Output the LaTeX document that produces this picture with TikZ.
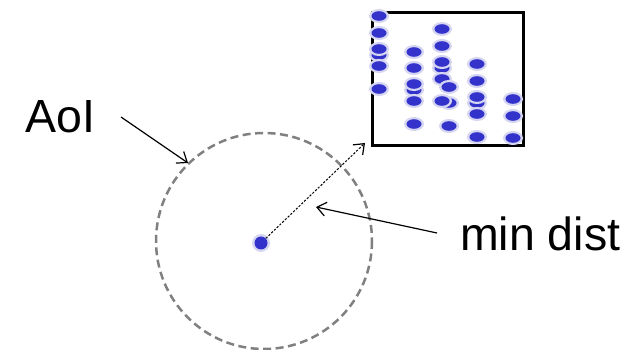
\documentclass[tikz,border=0pt]{standalone}
\usepackage{fontspec}
\setmainfont{Liberation Sans}
\usetikzlibrary{arrows.meta}
\definecolor{dotblue}{HTML}{3333CC}
\definecolor{halo}{HTML}{D6D6F2}
\definecolor{ringgray}{HTML}{808080}
\begin{document}
\begin{tikzpicture}[x=1pt,y=-1pt,
  lbl/.style={inner sep=0pt,font=\fontsize{46.5}{56}\selectfont},
  pointer/.style={draw=black,line width=1.2pt,-{Straight Barb[length=9pt,width=14pt,line width=1.2pt]}},
  pt/.pic={\fill[halo] (0,0) ellipse (10 and 7); \fill[dotblue] (0,0) ellipse (7.5 and 4.8);}
]
\useasboundingbox (0,0) rectangle (641,350);
% area of interest
\draw[ringgray,line width=2.5pt,dash pattern=on 8pt off 4.5pt] (264,241) circle (108);
% box
\node[draw=black,line width=2.6pt,minimum width=151pt,minimum height=133pt,inner sep=0pt,anchor=north west] (box) at (371,11) {};
% points in box (lower ones first)
\foreach \x/\y in {379/55,379/49,379/66,379/33,379/16,379/89,
  414/90,414/84,414/52,414/68,414/101,414/124,
  442/29,442/46,442/68,442/62,442/79,449/87,449/103,442/101,449/126,
  477/64,477/81,477/103,477/97,477/114,477/137,
  513/99,513/116,513/138}
  \pic at (\x,\y) {pt};
% center dot
\fill[halo] (261,243) circle (9);
\node[circle,fill=dotblue,inner sep=0pt,minimum size=13pt] (c) at (261,243) {};
% labels
\node[lbl,anchor=base west] (aoi) at (25,133) {AoI};
\node[lbl,anchor=base west] (md) at (460,251) {min dist};
\coordinate (aoiS) at (121,117);
\coordinate (aoiE) at (188,163);
\coordinate (mdS) at (437,233);
\coordinate (mdE) at (316,207);
\coordinate (boxC) at (365,143);
% connectors
\draw[pointer] (aoiS) -- (aoiE);
\draw[pointer] (mdS) -- (mdE);
\draw[line width=1pt,dash pattern=on 2.2pt off 1.6pt,-{Straight Barb[length=9pt,width=14pt,line width=1.2pt]}] (c) -- (boxC);
\end{tikzpicture}
\end{document}
